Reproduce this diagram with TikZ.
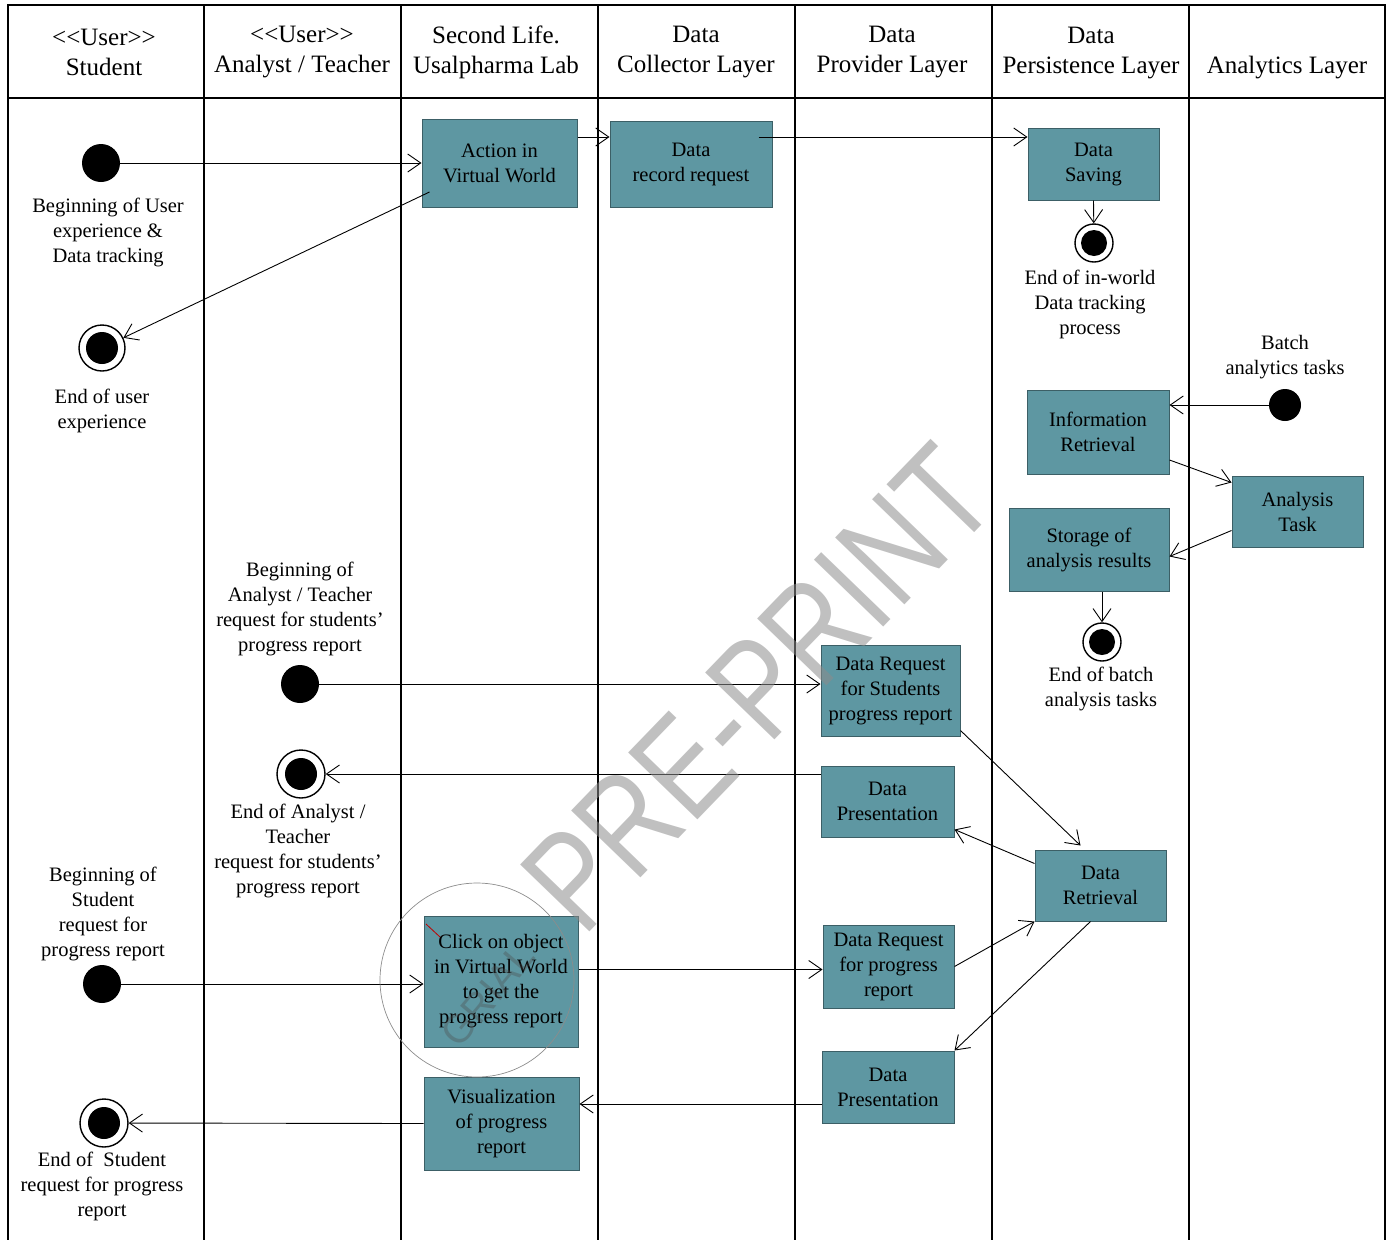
\documentclass[tikz,border=0pt]{standalone}
\usepackage{fontspec}
\setmainfont{Liberation Serif}
\newfontfamily\wmfont{Liberation Sans}
\usetikzlibrary{arrows.meta}
\definecolor{boxcol}{HTML}{5E97A2}
\definecolor{boxline}{HTML}{3C5F66}
\begin{document}
\begin{tikzpicture}[x=1pt,y=-1pt,
  lane/.style={line width=2.6pt},
  actbox/.style={draw=boxline, line width=1pt, fill=boxcol, rectangle, inner sep=0pt, align=center, font=\fontsize{20.5}{25}\selectfont},
  lbl/.style={align=center, inner sep=0pt, font=\fontsize{20.5}{25}\selectfont},
  hdr/.style={align=center, inner sep=0pt, font=\fontsize{25}{30}\selectfont},
  startdot/.style={circle, fill=black, inner sep=0pt, minimum size=#1},
  enddot/.style 2 args={circle, draw=black, line width=1.4pt, fill=white, inner sep=0pt, minimum size=#1,
     path picture={\fill[black] (path picture bounding box.center) circle[radius=#2];}},
  arr/.style={line width=0.9pt, -{Straight Barb[length=13pt,width=18pt,line width=0.9pt]}},
]
\useasboundingbox (0,0) rectangle (1390,1240);
% swimlane frame
\draw[lane] (8,1240) -- (8,5) -- (1385,5) -- (1385,1240);
\draw[lane] (8,98) -- (1385,98);
\foreach \x in {204,401,598,795,992,1189} \draw[lane] (\x,5) -- (\x,1240);

% headers
\node[hdr] (h1) at (104,52) {<{}<User>{}>\\Student};
\node[hdr] (h2) at (302,52) {<{}<User>{}>\\Analyst / Teacher};
\node[hdr] (h3) at (496,52) {Second Life.\\Usalpharma Lab};
\node[hdr] (h4) at (696,52) {Data\\Collector Layer};
\node[hdr] (h5) at (892,52) {Data\\Provider Layer};
\node[hdr] (h6) at (1091,53) {Data\\Persistence Layer};
\node[hdr] (h7) at (1287,68) {Analytics Layer};

% activity boxes
\node[actbox, minimum width=155pt, minimum height=88pt] (act) at (499.5,163) {Action in\\Virtual World};
\node[actbox, minimum width=162pt, minimum height=86pt] (rec) at (691,164) {Data\\record request};
\node[actbox, minimum width=131pt, minimum height=72pt] (save) at (1093.5,164) {Data\\Saving};
\node[actbox, minimum width=142pt, minimum height=84pt] (info) at (1098,432) {Information\\Retrieval};
\node[actbox, minimum width=131pt, minimum height=71pt] (anal) at (1297.5,511.5) {Analysis\\Task};
\node[actbox, minimum width=160pt, minimum height=83pt] (stor) at (1089,549.5) {Storage of\\analysis results};
\node[actbox, minimum width=139pt, minimum height=91pt] (dreqS) at (890.5,690.5) {Data Request\\for Students\\progress report};
\node[actbox, minimum width=133pt, minimum height=71pt] (dpres1) at (887.5,801.5) {Data\\Presentation};
\node[actbox, minimum width=131pt, minimum height=71pt] (dret) at (1100.5,885.5) {Data\\Retrieval};
\node[actbox, minimum width=154pt, minimum height=131pt] (click) at (501,981.5) {Click on object\\in Virtual World\\to get the\\progress report};
\node[actbox, minimum width=131pt, minimum height=83pt] (dreqP) at (888.5,966.5) {Data Request\\for progress\\report};
\node[actbox, minimum width=132pt, minimum height=72pt] (dpres2) at (888,1087) {Data\\Presentation};
\node[actbox, minimum width=155pt, minimum height=93pt] (vis) at (501.5,1123.5) {Visualization\\of progress\\report};

% initial and final nodes
\node[startdot=38pt] (s1) at (101,163) {};
\node[enddot={46pt}{16pt}] (e1) at (102,348) {};
\node[enddot={38pt}{13pt}] (e2) at (1094,243) {};
\node[startdot=32pt] (s2) at (1285,405) {};
\node[enddot={38pt}{13pt}] (e3) at (1102,642) {};
\node[startdot=38pt] (s3) at (300,684) {};
\node[enddot={48pt}{16pt}] (e4) at (301,774) {};
\node[startdot=38pt] (s4) at (102,984) {};
\node[enddot={48pt}{16pt}] (e5) at (104,1123) {};

% labels
\node[lbl] (l1) at (108,232) {Beginning of User\\experience \&\\Data tracking};
\node[lbl] (l2) at (102,411) {End of user\\experience};
\node[lbl] (l3) at (1090,304) {End of in-world\\Data tracking\\process};
\node[lbl] (l4) at (1285,357) {Batch\\analytics tasks};
\node[lbl] (l5) at (1101,689) {End of batch\\analysis tasks};
\node[lbl] (l6) at (300,609) {Beginning of\\Analyst / Teacher\\request for students’\\progress report};
\node[lbl] (l7) at (298,851) {End of Analyst /\\Teacher\\request for students’\\progress report};
\node[lbl] (l8) at (103,914) {Beginning of\\Student\\request for\\progress report};
\node[lbl] (l9) at (102,1186) {End of~ Student\\request for progress\\report};

% connectors
\draw[arr] (s1) -- (act.west |- s1);
\draw[arr] ([xshift=8pt,yshift=-29pt]act.west) -- (e1);
\draw[arr] ([yshift=26pt]act.east) -- ([yshift=26pt]act.east -| rec.west);
\draw[arr] ([xshift=-14pt,yshift=27pt]rec.east) -- ([yshift=27pt]save.west);
\draw[arr] (save.south) -- (e2);
\draw[arr] (s2) -- (info.east |- s2);
\draw[arr] ([yshift=-28pt]info.east) -- ([yshift=-7pt]anal.north west);
\draw[arr] ([yshift=-19pt]anal.west) -- ([yshift=-7pt]stor.east);
\draw[arr] (stor.south -| e3) -- (e3);
\draw[arr] (s3) -- (dreqS.west |- s3);
\draw[arr] ([yshift=6pt]dreqS.south east) -- ([xshift=-20pt,yshift=4pt]dret.north);
\draw[arr] ([yshift=22pt]dret.west) -- ([yshift=-28pt]dpres1.east);
\draw[arr] ([yshift=27.5pt]dpres1.west) -- (e4);
\draw[arr] (s4) -- (click.west |- s4);
\draw[arr] ([yshift=12pt]click.east) -- ([yshift=12pt]click.east -| dreqP.west);
\draw[arr] (dreqP.east) -- (dret.south west);
\draw[arr] ([xshift=-10pt]dret.south) -- (dpres2.north east);
\draw[arr] ([yshift=-17pt]dpres2.west) -- ([yshift=-17pt]dpres2.west -| vis.east);
\draw[arr] (vis.west) -- (e5);

% watermark stamp
\node[circle, draw=black!45, line width=0.7pt, minimum size=194pt, inner sep=0pt] (stamp) at (477,980) {};
\node[text=black!70, opacity=0.35, font=\wmfont\fontsize{40}{40}\selectfont, rotate=50, inner sep=0pt] (stamptxt) at (488,995) {GRIAL};
\draw[red!75!black, line width=0.8pt] (426,924) -- (440,937);
% PRE-PRINT watermark
\node[text=black!45, opacity=0.55, font=\wmfont\fontsize{140}{140}\selectfont, rotate=46, xscale=0.8, inner sep=0pt] (wm) at (758,688) {PRE-PRINT};
\end{tikzpicture}
\end{document}
